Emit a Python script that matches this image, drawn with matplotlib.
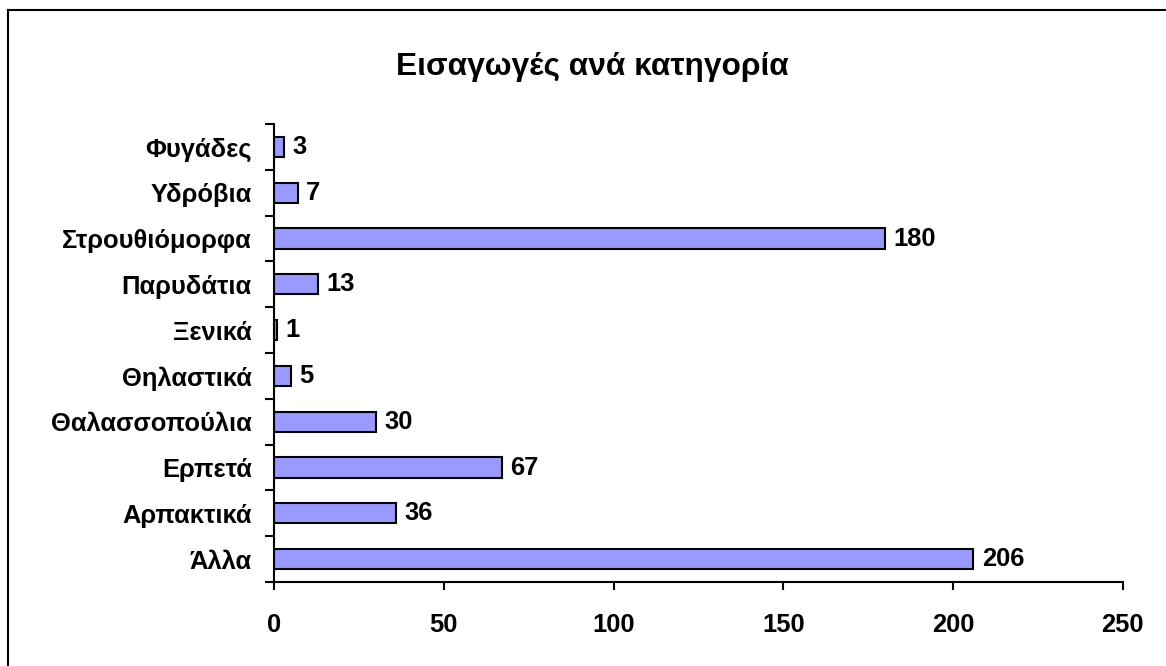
import matplotlib
matplotlib.use("Agg")
import matplotlib.pyplot as plt
from matplotlib.lines import Line2D
import numpy as np

plt.rcParams['font.family'] = ['Liberation Sans', 'DejaVu Sans']
plt.rcParams['font.weight'] = 'bold'

# data, listed bottom to top as in the chart
categories = ['Άλλα', 'Αρπακτικά', 'Ερπετά', 'Θαλασσοπούλια', 'Θηλαστικά',
              'Ξενικά', 'Παρυδάτια', 'Στρουθιόμορφα', 'Υδρόβια', 'Φυγάδες']
values = [206, 36, 67, 30, 5, 1, 13, 180, 7, 3]
x_ticks = [0, 50, 100, 150, 200, 250]
title = 'Εισαγωγές ανά κατηγορία'

fig = plt.figure(figsize=(11.66, 6.66), dpi=100)
ax = fig.add_axes([0.235, 0.1261, 0.728, 0.6877])

y = np.arange(len(categories))
ax.barh(y, values, height=0.44, color='#9999FF', edgecolor='black', linewidth=1.5)

for yi, v in zip(y, values):
    ax.annotate(str(v), (v, yi), xytext=(6, 0), textcoords='offset points',
                va='center', ha='left', fontsize=18.4, fontweight='bold')

ax.set_xlim(0, 250)
ax.set_ylim(-0.5, len(categories) - 0.5)
ax.set_xticks(x_ticks)
ax.set_xticklabels([str(t) for t in x_ticks], fontsize=18.4, fontweight='bold')
ax.set_yticks(y)
ax.set_yticklabels(categories, fontsize=18.4, fontweight='bold')
ax.set_yticks(np.arange(-0.5, len(categories), 1), minor=True)

ax.tick_params(axis='y', which='major', length=0, pad=16)
ax.tick_params(axis='y', which='minor', length=6.5, width=1.5, direction='out')
ax.tick_params(axis='x', length=6, width=1.5, direction='out', pad=16)

for s in ['top', 'right']:
    ax.spines[s].set_visible(False)
for s in ['left', 'bottom']:
    ax.spines[s].set_linewidth(1.5)

fig.text(0.508, 1 - 67 / 666, title, ha='center', va='center',
         fontsize=22.8, fontweight='bold')

# outer chart frame (only top and left edges are visible)
fig.add_artist(Line2D([8 / 1166, 8 / 1166], [0, 1 - 10 / 666],
                      transform=fig.transFigure, color='black', lw=1.5))
fig.add_artist(Line2D([8 / 1166, 1], [1 - 10 / 666, 1 - 10 / 666],
                      transform=fig.transFigure, color='black', lw=1.5))

fig.savefig('out.png', dpi=100)
